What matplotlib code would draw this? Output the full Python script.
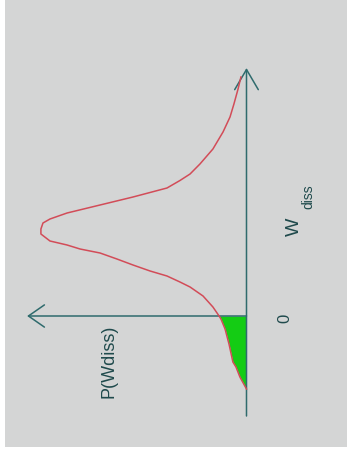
import numpy as np
import matplotlib
matplotlib.use("Agg")
import matplotlib.pyplot as plt
from matplotlib.patches import Rectangle

# Distribution P(W_diss) (W_diss along the vertical, P to the left)
w_diss = [-0.73, -0.61, -0.51, -0.46, -0.28, -0.13, -0.03, 0.00, 0.09, 0.20,
          0.29, 0.34, 0.40, 0.45, 0.51, 0.57, 0.63, 0.67, 0.71, 0.75,
          0.82, 0.87, 0.93, 0.97, 1.03, 1.11, 1.19, 1.28, 1.355, 1.42,
          1.52, 1.67, 1.84, 1.99, 2.12, 2.27, 2.39]
p_wdiss = [0.000, 0.032, 0.051, 0.066, 0.085, 0.104, 0.124, 0.133, 0.163, 0.211,
           0.274, 0.323, 0.386, 0.468, 0.551, 0.629, 0.711, 0.808, 0.871, 0.954,
           0.998, 0.998, 0.988, 0.954, 0.871, 0.711, 0.551, 0.386, 0.323, 0.274,
           0.226, 0.163, 0.114, 0.080, 0.061, 0.041, 0.027]

zero_label = "0"
w_label = "W"
w_sub = "diss"
p_label = "P(Wdiss)"

W = np.array(w_diss)
P = np.array(p_wdiss)

fig = plt.figure(figsize=(3.47, 4.56), dpi=100, facecolor="white")
ax = fig.add_axes([0, 0, 1, 1])
ax.set_facecolor("none")
ax.set_xlim(1.1966, -0.4879)
ax.set_ylim(-1.39, 3.17)
ax.axis("off")
ax.add_patch(Rectangle((5 / 347, 8 / 456), 1 - 5 / 347, 1 - 8 / 456,
                       transform=fig.transFigure, facecolor="#d4d5d5",
                       edgecolor="none", zorder=0))

axis_col = "#2f6b6d"
text_col = "#1f4a4c"

# negative-work region
neg = W <= 0
ax.fill_betweenx(W[neg], 0, P[neg], color="#14cc14", lw=0, zorder=2)

# axes with open arrowheads
ax.annotate("", xy=(0, 2.48), xytext=(0, -1.0),
            arrowprops=dict(arrowstyle="->,head_length=1.45,head_width=0.85",
                            color=axis_col, lw=1.1, shrinkA=0, shrinkB=0), zorder=3)
ax.annotate("", xy=(1.065, 0), xytext=(0, 0),
            arrowprops=dict(arrowstyle="->,head_length=1.15,head_width=0.8",
                            color=axis_col, lw=1.1, shrinkA=0, shrinkB=0), zorder=3)

ax.plot(P, W, color="#d24c58", lw=1.1, zorder=4)

ax.text(-0.187, -0.01, zero_label, rotation=90, ha="center", va="center",
        fontsize=12, color=text_col, family="Liberation Sans")
ax.text(-0.231, 0.90, w_label, rotation=90, ha="center", va="center",
        fontsize=14, color=text_col, family="Liberation Sans")
ax.text(-0.30, 1.20, w_sub, rotation=90, ha="center", va="center",
        fontsize=10, color=text_col, family="Liberation Sans")
ax.text(0.668, -0.44, p_label, rotation=90, ha="center", va="center",
        fontsize=13, color=text_col, family="Liberation Sans")

fig.savefig("out.png", dpi=100, facecolor="white")
